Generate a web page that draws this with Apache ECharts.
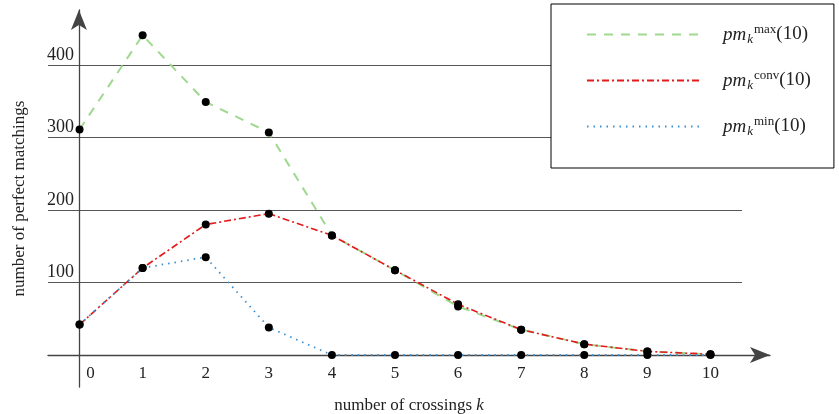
<!DOCTYPE html>
<html>
<head>
<meta charset="utf-8">
<script src="https://cdn.jsdelivr.net/npm/echarts@6/dist/echarts.min.js"></script>
<style>
  html, body { margin: 0; padding: 0; background: #fff; }
  #chart { width: 839px; height: 414px; }
</style>
</head>
<body>
<div id="chart"></div>
<script>
// number of crossings k
const crossings = ["0", "1", "2", "3", "4", "5", "6", "7", "8", "9", "10"];
// series values
const pmMax = [311, 441, 349, 307, 165, 117, 67, 35, 15, 5, 1];
const pmConv = [42, 120, 180, 195, 165, 117, 70, 35, 15, 5, 1];
const pmMin = [42, 120, 135, 38, 0, 0, 0, 0, 0, 0, 0];
const yTickLabels = [100, 200, 300, 400];

const serif = "Liberation Serif";

var myChart = echarts.init(document.getElementById("chart"));

// legend label: pm_k^xxx(10)
function pmName(sup) {
  return "{i|pm}{sub|k}{sup|" + sup + "}{n|(10)}";
}
const nameMax = pmName("max");
const nameConv = pmName("conv");
const nameMin = pmName("min");

function lineSeries(name, data, color, type, width) {
  return {
    name: name,
    type: "line",
    xAxisIndex: 0,
    yAxisIndex: 0,
    data: data,
    symbol: "none",
    lineStyle: { color: color, type: type, width: width },
    itemStyle: { color: color },
    z: 3,
  };
}

function dotSeries(data) {
  return {
    type: "scatter",
    xAxisIndex: 0,
    yAxisIndex: 0,
    data: data,
    symbolSize: 8,
    itemStyle: { color: "#000", opacity: 1 },
    silent: true,
    z: 5,
  };
}

var option = {
  animation: false,
  backgroundColor: "#fff",
  grid: [
    // data grid (500 sits just above the top edge so 400 is the last line)
    { left: 48, width: 694, top: -7.5, bottom: 59, outerBoundsMode: "none" },
    // axes with arrows
    { left: 48, right: 69, top: 10, bottom: 27, outerBoundsMode: "none" },
  ],
  xAxis: [
    {
      gridIndex: 0,
      type: "category",
      data: crossings,
      boundaryGap: true,
      axisLine: { show: false },
      axisTick: { show: false },
      splitLine: { show: false },
      axisLabel: {
        interval: 0,
        margin: 10,
        fontFamily: serif,
        fontSize: 17,
        color: "#222",
        formatter: function (v) {
          return v === "0" ? "{z|0}" : v;
        },
        rich: {
          z: { padding: [0, 0, 0, 22], fontFamily: serif, fontSize: 17, color: "#222" },
        },
      },
    },
    {
      gridIndex: 1,
      type: "value",
      min: -0.49,
      max: 10.95,
      axisLine: {
        show: true,
        onZero: true,
        symbol: ["none", "arrow"],
        symbolSize: [12, 20],
        lineStyle: { color: "#444", width: 1.3 },
      },
      axisTick: { show: false },
      axisLabel: { show: false },
      splitLine: { show: false },
      name: "number of crossings {k|k}",
      nameLocation: "middle",
      nameGap: 10,
      nameTextStyle: {
        fontFamily: serif,
        fontSize: 17,
        color: "#222",
        rich: { k: { fontFamily: serif, fontSize: 17, fontStyle: "italic", color: "#222" } },
      },
    },
  ],
  yAxis: [
    {
      gridIndex: 0,
      type: "value",
      min: 0,
      max: 500,
      interval: 100,
      axisLine: { show: false },
      axisTick: { show: false },
      splitLine: { show: true, lineStyle: { color: "#555", width: 1.2 } },
      axisLabel: {
        align: "left",
        verticalAlign: "bottom",
        margin: 1,
        padding: [0, 0, 1, 0],
        fontFamily: serif,
        fontSize: 18,
        color: "#222",
        formatter: function (v) {
          return yTickLabels.indexOf(v) >= 0 ? String(v) : "";
        },
      },
    },
    {
      gridIndex: 1,
      type: "value",
      min: -44,
      max: 476,
      axisLine: {
        show: true,
        onZero: true,
        symbol: ["none", "arrow"],
        symbolSize: [12, 20],
        lineStyle: { color: "#444", width: 1.3 },
      },
      axisTick: { show: false },
      axisLabel: { show: false },
      splitLine: { show: false },
      name: "number of perfect matchings",
      nameLocation: "middle",
      nameRotate: 90,
      nameGap: 20,
      nameTextStyle: { fontFamily: serif, fontSize: 17, color: "#222" },
    },
  ],
  legend: {
    orient: "vertical",
    left: 551,
    top: 4,
    padding: [19, 23, 30, 35],
    itemWidth: 115,
    itemHeight: 14,
    itemGap: 23,
    backgroundColor: "#fff",
    borderColor: "#000",
    borderWidth: 1,
    itemStyle: { opacity: 0 },
    data: [nameMax, nameConv, nameMin],
    textStyle: {
      rich: {
        i: { fontFamily: serif, fontStyle: "italic", fontSize: 19, color: "#222", padding: [0, 0, 0, 16] },
        sub: { fontFamily: serif, fontStyle: "italic", fontSize: 13, color: "#222", verticalAlign: "bottom", padding: [10, 0, 0, 1] },
        sup: { fontFamily: serif, fontSize: 13, color: "#222", verticalAlign: "top", padding: [0, 0, 8, 1] },
        n: { fontFamily: serif, fontSize: 19, color: "#222" },
      },
    },
  },
  series: [
    lineSeries(nameMax, pmMax, "#9fd98f", [9, 8], 2),
    lineSeries(nameConv, pmConv, "#e31a1c", [7, 3, 2, 3], 1.6),
    lineSeries(nameMin, pmMin, "#3a8fd0", [1.5, 5], 1.8),
    dotSeries(pmMax),
    dotSeries(pmConv),
    dotSeries(pmMin),
  ],
};

myChart.setOption(option);
</script>
</body>
</html>
